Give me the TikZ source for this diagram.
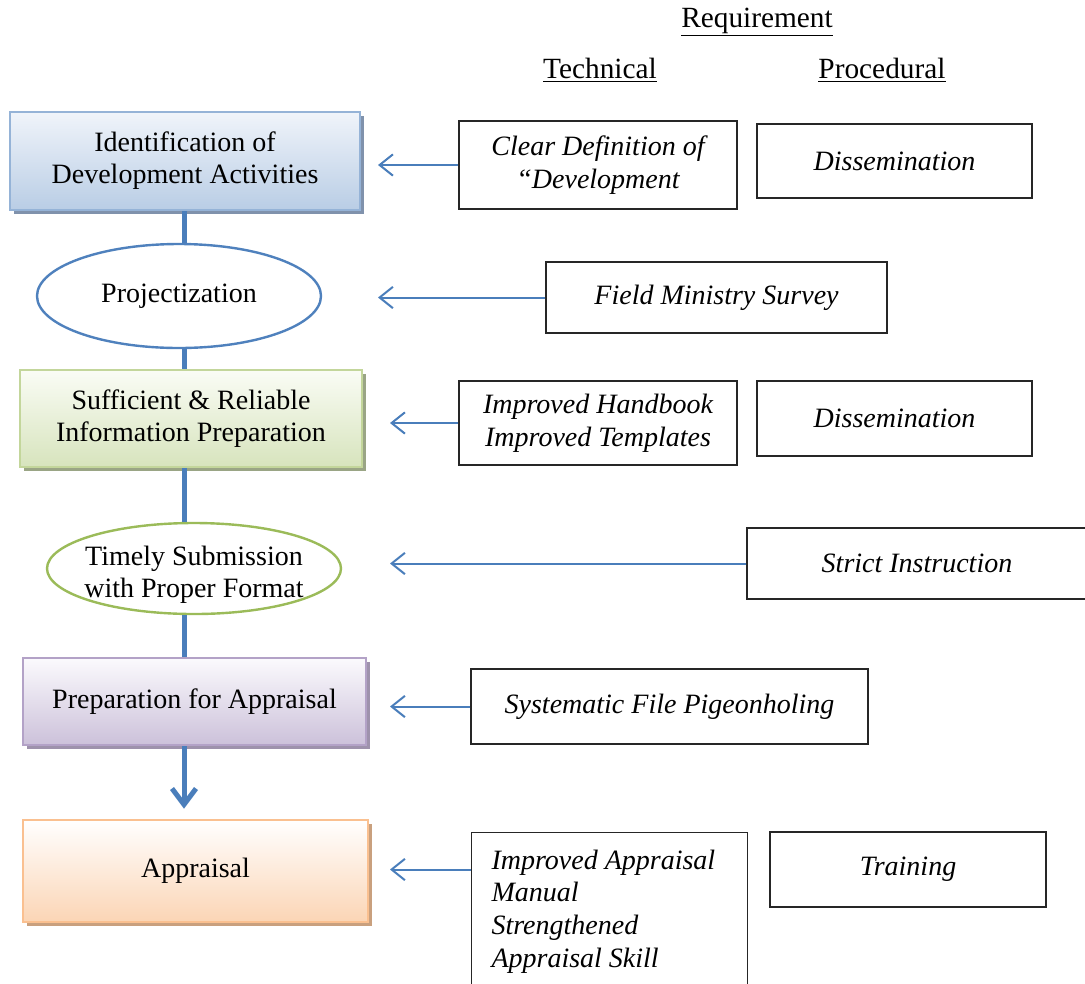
\documentclass[tikz,border=0pt]{standalone}
\usepackage{fontspec}
\setmainfont{Liberation Serif}
\usetikzlibrary{shapes.geometric,arrows.meta,shadows}

\definecolor{flowblue}{RGB}{74,126,187}
\definecolor{actline}{RGB}{149,179,215}
\definecolor{acttop}{RGB}{240,244,250}
\definecolor{actbot}{RGB}{185,205,229}
\definecolor{actshade}{RGB}{128,146,172}
\definecolor{infoline}{RGB}{195,214,155}
\definecolor{infotop}{RGB}{250,252,245}
\definecolor{infobot}{RGB}{215,228,189}
\definecolor{infoshade}{RGB}{154,165,133}
\definecolor{prepline}{RGB}{179,162,199}
\definecolor{preptop}{RGB}{251,250,253}
\definecolor{prepbot}{RGB}{204,193,218}
\definecolor{prepshade}{RGB}{158,146,172}
\definecolor{apprline}{RGB}{250,192,144}
\definecolor{apprtop}{RGB}{255,255,255}
\definecolor{apprbot}{RGB}{251,213,181}
\definecolor{apprshade}{RGB}{201,160,126}
\definecolor{projline}{RGB}{79,129,189}
\definecolor{subline}{RGB}{155,187,89}

\begin{document}
\begin{tikzpicture}[x=0.75pt,y=0.75pt,yscale=-1,xscale=1,
  every node/.style={font=\fontsize{21}{24}\selectfont},
  headtext/.style={font=\fontsize{22}{26}\selectfont},
  phasebox/.style n args={4}{rectangle, draw=#1, line width=2pt, top color=#2, bottom color=#3,
    drop shadow={shadow xshift=3pt, shadow yshift=-3pt, fill=#4, opacity=1}, align=center, inner sep=0pt},
  phaseoval/.style={ellipse, draw=#1, line width=1.8pt, fill=white, align=center, inner sep=0pt},
  reqbox/.style={rectangle, draw=black!85, line width=0.8pt, align=center, inner sep=0pt,
    font=\fontsize{21}{24.5}\selectfont\itshape},
  spineline/.style={draw=flowblue, line width=3.75pt},
  reqarrow/.style={draw=flowblue, line width=1.5pt, -{Straight Barb[length=10pt,width=16pt,line width=1.5pt]}}]
                    \useasboundingbox (0,0) rectangle (1085,983);
                    \clip (0,0) rectangle (1085,983);
                    %set spine and arrow tips
                    \coordinate (spine) at (184,0);
                    \coordinate (nearx) at (378,0);
                    \coordinate (farx) at (390,0);

                    % Text Node
                    \node[headtext] (req) at (757,22) {\underline{Requirement}};
                    % Text Node
                    \node[headtext] (tech) at (600,70) {\underline{Technical}};
                    % Text Node
                    \node[headtext] (proc) at (882,70) {\underline{Procedural}};

                    %Shapes [left column]
                    \node[phasebox={actline}{acttop}{actbot}{actshade}, minimum width=262.5pt, minimum height=73.5pt] (act) at (185,161) {Identification of\\Development Activities};
                    \node[phaseoval=projline, minimum width=213pt, minimum height=78pt] (proj) at (179,296) {Projectization};
                    \node[phasebox={infoline}{infotop}{infobot}{infoshade}, minimum width=256.5pt, minimum height=72.75pt] (info) at (191,418.5) {Sufficient \& Reliable\\Information Preparation};
                    \node[phaseoval=subline, inner xsep=-5pt, minimum width=220.5pt, minimum height=68.25pt] (sub) at (194,568.5) {\raisebox{-10pt}[0pt][0pt]{\begin{tabular}{@{}c@{}}Timely Submission\\with Proper Format\end{tabular}}};
                    \node[phasebox={prepline}{preptop}{prepbot}{prepshade}, minimum width=257.25pt, minimum height=65.25pt] (prep) at (194.5,701.5) {Preparation for Appraisal};
                    \node[phasebox={apprline}{apprtop}{apprbot}{apprshade}, minimum width=258.75pt, minimum height=76.5pt] (appr) at (195.5,871) {Appraisal};

                    %Straight Lines [spine]
                    \draw[spineline] (act.south -| spine) -- (proj.north -| spine);
                    \draw[spineline] (proj.south -| spine) -- (info.north -| spine);
                    \draw[spineline] (info.south -| spine) -- (sub.north -| spine);
                    \draw[spineline] (sub.south -| spine) -- (prep.north -| spine);
                    \draw[spineline, -{Straight Barb[length=12pt,width=18pt,line width=3.75pt]}, shorten >=7.5pt] (prep.south -| spine) -- (appr.north -| spine);

                    %Shapes [requirements]
                    \node[reqbox, minimum width=208.5pt, minimum height=66pt] (clear) at (598,165) {Clear Definition of\\“Development};
                    \node[reqbox, minimum width=206.25pt, minimum height=55.5pt] (dissA) at (894.5,161) {Dissemination};
                    \node[reqbox, minimum width=255.75pt, minimum height=53.25pt] (field) at (716.5,297.5) {Field Ministry Survey};
                    \node[reqbox, minimum width=208.5pt, minimum height=63pt] (hand) at (598,423) {Improved Handbook\\Improved Templates};
                    \node[reqbox, minimum width=206.25pt, minimum height=56.25pt] (dissB) at (894.5,418.5) {Dissemination};
                    \node[reqbox, minimum width=255pt, minimum height=53.25pt] (strict) at (917,563.5) {Strict Instruction};
                    \node[reqbox, minimum width=297.75pt, minimum height=56.25pt] (pigeon) at (669.5,706.5) {Systematic File Pigeonholing};
                    \node[reqbox, anchor=north west, align=left, inner xsep=15pt, inner ysep=0pt] (manual) at (471,832) {\begin{minipage}[c][140pt][t]{177pt}\vspace*{13pt}Improved Appraisal\\Manual\\Strengthened\\Appraisal Skill\end{minipage}};
                    \node[reqbox, minimum width=207pt, minimum height=56.25pt] (train) at (908,869.5) {Training};

                    %Straight Lines [requirement arrows]
                    \draw[reqarrow] (clear.west) -- (clear.west -| nearx);
                    \draw[reqarrow] (field.west) -- (field.west -| nearx);
                    \draw[reqarrow] (hand.west) -- (hand.west -| farx);
                    \draw[reqarrow] (strict.west) -- (strict.west -| farx);
                    \draw[reqarrow] (pigeon.west) -- (pigeon.west -| farx);
                    \draw[reqarrow] (manual.west |- train.west) -- (train.west -| farx);

\end{tikzpicture}
\end{document}
